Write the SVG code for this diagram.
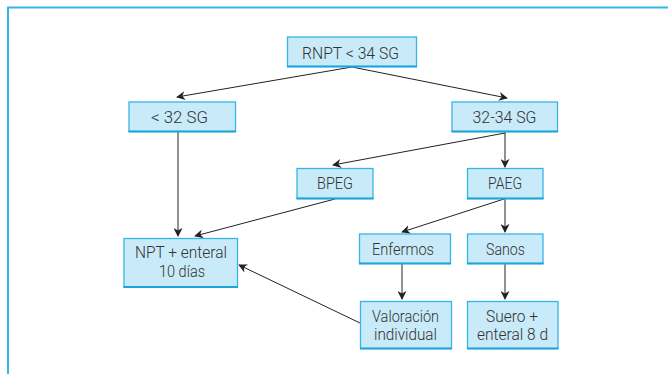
<svg xmlns="http://www.w3.org/2000/svg" width="668" height="374" viewBox="0 0 668 374">
<defs>
<style>
.box{fill:#c9eaf8;stroke:#35b6e6;stroke-width:1.3}
.bb{stroke:#1fa3dc;stroke-width:2.2}
.t{font-family:Roboto,"Open Sans","Liberation Sans",sans-serif;font-weight:300;font-size:17px;fill:#333;text-anchor:middle}
.c{stroke:#222;stroke-width:1;fill:none;marker-end:url(#ah)}
.frame{stroke:#35b6e6;stroke-width:2;fill:none}
</style>
<marker id="ah" viewBox="0 0 10 10" refX="9" refY="5" markerWidth="9" markerHeight="9" markerUnits="userSpaceOnUse" orient="auto">
<path d="M0,0 L10,5 L0,10 L3,5 Z" fill="#222"/>
</marker>
</defs>
<rect width="668" height="374" fill="#fff"/>
<path class="frame" d="M8,374 V7.5 H668"/>
<g id="connectors">
<line class="c" x1="352" y1="67" x2="177" y2="97"/>
<line class="c" x1="352" y1="67" x2="507" y2="98"/>
<line class="c" x1="178" y1="132" x2="178" y2="236"/>
<line class="c" x1="505" y1="133" x2="333" y2="165"/>
<line class="c" x1="505" y1="132" x2="505" y2="167"/>
<line class="c" x1="335" y1="199" x2="195" y2="236"/>
<line class="c" x1="504" y1="199" x2="402" y2="232"/>
<line class="c" x1="505" y1="199" x2="505" y2="232"/>
<line class="c" x1="402" y1="264" x2="402" y2="299"/>
<line class="c" x1="505" y1="264" x2="505" y2="299"/>
<line class="c" x1="360" y1="323" x2="239" y2="265"/>
</g>
<g id="n1"><rect class="box" x="287.5" y="37" width="129" height="29.5"/><line class="bb" x1="287" y1="66.5" x2="417" y2="66.5"/><text class="t" x="350.5" y="59" textLength="97" lengthAdjust="spacingAndGlyphs">RNPT &lt; 34 SG</text></g>
<g id="n2"><rect class="box" x="129" y="102" width="106.5" height="29.5"/><line class="bb" x1="128.5" y1="131.5" x2="236" y2="131.5"/><text class="t" x="179.5" y="123" textLength="57" lengthAdjust="spacingAndGlyphs">&lt; 32 SG</text></g>
<g id="n3"><rect class="box" x="452" y="102" width="105.5" height="29.5"/><line class="bb" x1="451.5" y1="131.5" x2="558" y2="131.5"/><text class="t" x="504.5" y="123" textLength="64" lengthAdjust="spacingAndGlyphs">32-34 SG</text></g>
<g id="n4"><rect class="box" x="297" y="168.5" width="76" height="30"/><line class="bb" x1="296.5" y1="198.5" x2="373.5" y2="198.5"/><text class="t" x="335" y="188.5" textLength="36" lengthAdjust="spacingAndGlyphs">BPEG</text></g>
<g id="n5"><rect class="box" x="467.5" y="168.5" width="75.5" height="30"/><line class="bb" x1="467" y1="198.5" x2="543.5" y2="198.5"/><text class="t" x="505" y="188.5" textLength="34" lengthAdjust="spacingAndGlyphs">PAEG</text></g>
<g id="n6"><rect class="box" x="124" y="238.5" width="113.5" height="48.5"/><line class="bb" x1="123.5" y1="287" x2="238" y2="287"/><text class="t" x="181" y="257.5" textLength="92" lengthAdjust="spacingAndGlyphs">NPT + enteral</text><text class="t" x="182" y="277" textLength="46" lengthAdjust="spacingAndGlyphs">10 días</text></g>
<g id="n7"><rect class="box" x="359.5" y="234" width="91" height="29.5"/><line class="bb" x1="359" y1="263.5" x2="451" y2="263.5"/><text class="t" x="403" y="254.5" textLength="62" lengthAdjust="spacingAndGlyphs">Enfermos</text></g>
<g id="n8"><rect class="box" x="467.5" y="234" width="75.5" height="29.5"/><line class="bb" x1="467" y1="263.5" x2="543.5" y2="263.5"/><text class="t" x="505.5" y="254.5" textLength="39" lengthAdjust="spacingAndGlyphs">Sanos</text></g>
<g id="n9"><rect class="box" x="360.5" y="301.5" width="91" height="47"/><line class="bb" x1="360" y1="348.5" x2="452" y2="348.5"/><text class="t" x="405.5" y="321.5" textLength="67" lengthAdjust="spacingAndGlyphs">Valoración</text><text class="t" x="405.5" y="340" textLength="63" lengthAdjust="spacingAndGlyphs">individual</text></g>
<g id="n10"><rect class="box" x="467.5" y="301.5" width="90.5" height="47"/><line class="bb" x1="467" y1="348.5" x2="558.5" y2="348.5"/><text class="t" x="512" y="321.5" textLength="52" lengthAdjust="spacingAndGlyphs">Suero +</text><text class="t" x="512.5" y="340" textLength="71" lengthAdjust="spacingAndGlyphs">enteral 8 d</text></g>
</svg>
